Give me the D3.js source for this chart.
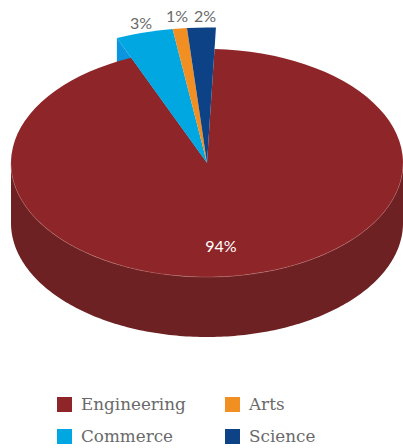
<!DOCTYPE html>
<html>
<head>
<meta charset="utf-8">
<script src="https://cdn.jsdelivr.net/npm/d3@7"></script>
<style>
  html, body { margin: 0; padding: 0; background: #fff; }
  svg { display: block; }
  text { font-family: "DejaVu Serif", serif; }
  text.pct { font-family: Lato, sans-serif; }
</style>
</head>
<body>
<div id="chart"></div>
<script>
const categories = ['Engineering', 'Commerce', 'Arts', 'Science']
// slice sizes as drawn: the commerce wedge is wider than its printed 3%
const sliceValues = [94, 4, 1, 2]
const sliceLabels = ['94%', '3%', '1%', '2%']
const colors = ['#8e2528', '#00a7e0', '#f18f22', '#0d4286']

const width = 403
const height = 448
const cx = 207
const cy = 163
const rx = 196
const tilt = 114 / 196
const depth = 60
const bigR = 233
const startAngle = 2.2 * Math.PI / 180

const svg = d3.select('#chart').append('svg')
  .attr('width', width)
  .attr('height', height)

const pie = d3.pie().sort(null).value(d => d)
  .startAngle(startAngle)
  .endAngle(startAngle + 2 * Math.PI)
const slices = pie(sliceValues)

const radius = i => i === 0 ? rx : bigR
const px = (a, r) => cx + r * Math.sin(a)
const py = (a, r) => cy - r * tilt * Math.cos(a)

// front wall of the big slice
const wallAngles = d3.range(90, 270.5, 1).map(d => d * Math.PI / 180)
svg.append('path')
  .attr('d', d3.area()
    .x(a => px(a, rx))
    .y0(a => py(a, rx))
    .y1(a => py(a, rx) + depth)(wallAngles))
  .attr('fill', '#6e2122')

// cut side of the commerce slice, only the part above the rim shows
const cutAngle = slices[1].startAngle
svg.append('path')
  .attr('d', d3.line()([
    [px(cutAngle, bigR), py(cutAngle, bigR)],
    [px(cutAngle, bigR), py(cutAngle, bigR) + depth],
    [cx, cy + depth],
    [cx, cy]
  ]) + 'Z')
  .attr('fill', '#0a95de')

const arc = d3.arc().innerRadius(0)
const pieTop = svg.append('g')
  .attr('transform', `translate(${cx},${cy}) scale(1,${tilt})`)

pieTop.selectAll('path')
  .data(slices)
  .enter()
  .append('path')
    .attr('d', (d, i) => arc.outerRadius(radius(i))(d))
    .attr('fill', (d, i) => colors[i])

// thin light rim along the front
svg.append('path')
  .attr('d', d3.line()
    .x(a => px(a, rx))
    .y(a => py(a, rx))(wallAngles))
  .attr('fill', 'none')
  .attr('stroke', '#b56a6a')
  .attr('stroke-width', 0.5)

const labelX = [221, 141, 177, 205]
const labelY = [246, 23, 16, 16]
svg.selectAll('.pct')
  .data(sliceLabels)
  .enter()
  .append('text')
    .attr('class', 'pct')
    .attr('x', (d, i) => labelX[i])
    .attr('y', (d, i) => labelY[i])
    .attr('dy', '0.35em')
    .attr('text-anchor', 'middle')
    .attr('font-size', 16)
    .attr('fill', (d, i) => i === 0 ? '#fff' : '#6a6a6a')
    .text(d => d)

// legend reads across: Engineering, Arts / Commerce, Science
const legendOrder = [0, 2, 1, 3]
const legendX = d3.scalePoint().domain([0, 1]).range([57, 225])
const legendY = d3.scalePoint().domain([0, 1]).range([397, 429])
const legend = svg.selectAll('.legend')
  .data(legendOrder)
  .enter()
  .append('g')
    .attr('class', 'legend')
    .attr('transform', (d, i) => `translate(${legendX(i % 2)},${legendY(Math.floor(i / 2))})`)

legend.append('rect')
  .attr('width', 15)
  .attr('height', 15)
  .attr('fill', d => colors[d])

legend.append('text')
  .attr('x', 24)
  .attr('y', 13)
  .attr('font-size', 16.8)
  .attr('fill', '#6a6a6a')
  .text(d => categories[d])
</script>
</body>
</html>
